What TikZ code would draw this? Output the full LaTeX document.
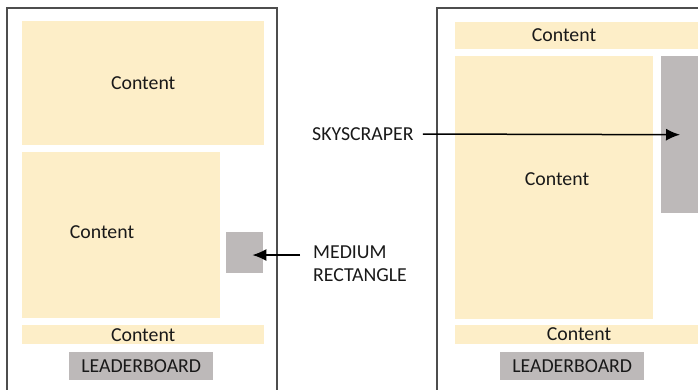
\documentclass[tikz,border=0pt]{standalone}
\usepackage{fontspec}
\setmainfont{Carlito}
\usetikzlibrary{arrows.meta,positioning}
\definecolor{adyellow}{HTML}{FDEEC8}
\definecolor{adgray}{HTML}{BDB9B9}
\definecolor{pageline}{HTML}{4D4D4D}

\begin{document}
\begin{tikzpicture}[x=1pt,y=-1pt,
  every node/.style={font=\fontsize{19.8}{23}\selectfont, inner sep=0pt, text=black!90},
  content/.style={fill=adyellow, anchor=north west},
  adbox/.style={fill=adgray, anchor=north west},
  page/.style={draw=pageline, line width=1.5pt},
  pointer/.style={line width=1.5pt, -{Latex[length=14pt,width=12pt]}}]
 \clip (0,0) rectangle (698,389);
 % left page
 \draw[page] (7,8) rectangle (277,400);
 \node[content, minimum width=242pt, minimum height=124pt] (lefttop) at (22,21) {Content};
 \node[content, minimum width=198pt, minimum height=166pt] (leftmain) at (22,152) {};
 \node (leftmaintext) at (102,232) {Content};
 \node[adbox, minimum width=37pt, minimum height=41pt] (medrect) at (226,232) {};
 \node[content, minimum width=242pt, minimum height=19pt] (leftfoot) at (22,325) {Content};
 \node[adbox, minimum width=144pt, minimum height=28pt] (leftboard) at (69,352) {LEADERBOARD};
 % right page
 \draw[page] (437,8) rectangle (710,400);
 \node[content, minimum width=250pt, minimum height=27pt] (righttop) at (455,22) {};
 \node (righttoptext) at (564,35) {Content};
 \node[content, minimum width=198pt, minimum height=263pt] (rightmain) at (455,56) {};
 \node (rightmaintext) at (557,179) {Content};
 \node[adbox, minimum width=45pt, minimum height=157pt] (sky) at (661,56) {};
 \node[content, minimum width=250pt, minimum height=19pt] (rightfoot) at (455,325) {};
 \node (rightfoottext) at (579,334) {Content};
 \node[adbox, minimum width=144pt, minimum height=28pt] (rightboard) at (500,352) {LEADERBOARD};
 % labels
 \node[anchor=west] (skylabel) at (312,134) {SKYSCRAPER};
 \node[anchor=north west, align=left] (medlabel) at (313,246) {MEDIUM\\RECTANGLE};
 \coordinate (medtail) at (300,255);
 \draw[pointer, shorten <=9pt] (skylabel.east) -- ([xshift=19pt]sky.west);
 \draw[pointer] (medtail) -- ([xshift=-11pt]medrect.east |- medtail);
\end{tikzpicture}
\end{document}
